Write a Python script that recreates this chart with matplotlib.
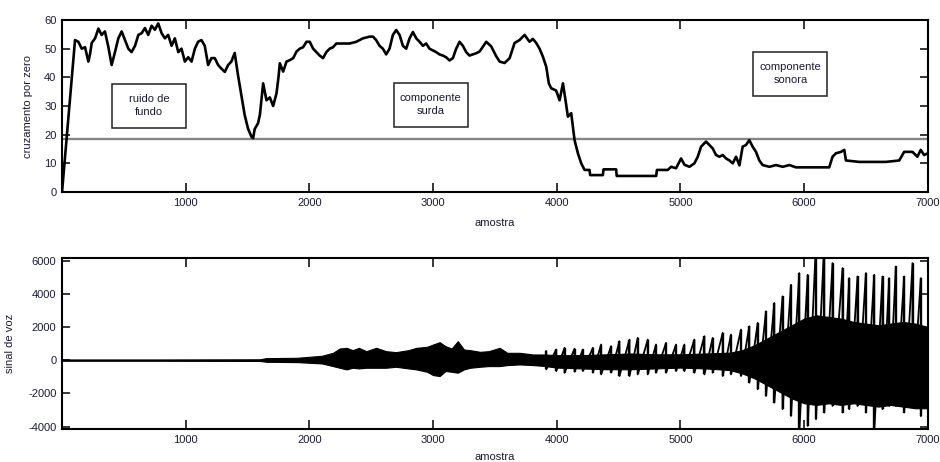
import numpy as np
from matplotlib import pyplot as plt
from matplotlib.patches import Rectangle

# taxa de cruzamento por zero
zc_x = [0, 105, 132, 159, 186, 213, 226, 240, 267, 294, 320, 347, 374, 401,
        428, 455, 482, 509, 536, 562, 590, 617, 644, 670, 697, 724, 751, 778,
        805, 832, 858, 886, 912, 940, 966, 993, 1020, 1047, 1074, 1100, 1127,
        1154, 1181, 1208, 1235, 1262, 1289, 1316, 1343, 1369, 1396, 1423,
        1450, 1477, 1504, 1531, 1545, 1558, 1585, 1600, 1626, 1653, 1680,
        1707, 1734, 1750, 1761, 1788, 1815, 1842, 1869, 1896, 1922, 1949,
        1976, 2003, 2030, 2057, 2083, 2110, 2137, 2164, 2191, 2218, 2271,
        2325, 2379, 2433, 2487, 2514, 2540, 2567, 2594, 2621, 2648, 2675,
        2702, 2729, 2756, 2783, 2810, 2837, 2864, 2891, 2918, 2944, 2971,
        2998, 3025, 3052, 3079, 3106, 3133, 3160, 3187, 3214, 3241, 3268,
        3294, 3321, 3348, 3376, 3430, 3470, 3510, 3538, 3578, 3619, 3659,
        3699, 3740, 3780, 3807, 3834, 3861, 3888, 3915, 3936, 3955, 3995,
        4023, 4050, 4071, 4090, 4117, 4144, 4171, 4198, 4225, 4265, 4270,
        4373, 4378, 4480, 4485, 4804, 4810, 4898, 4925, 4965, 5005, 5033,
        5073, 5113, 5140, 5167, 5207, 5234, 5261, 5288, 5315, 5342, 5369,
        5396, 5423, 5450, 5477, 5503, 5530, 5557, 5584, 5611, 5638, 5665,
        5719, 5773, 5827, 5881, 5934, 6203, 6230, 6257, 6298, 6325, 6338,
        6446, 6661, 6769, 6809, 6876, 6916, 6943, 6970, 7000]
zc_y = [0, 53, 52.4, 50, 50.5, 45.5, 48, 52, 53.6, 57, 54.8, 56, 50.7, 44.3,
        48.8, 53.6, 56, 53, 50, 48.8, 51, 54.8, 55.4, 57.2, 54.8, 58, 56.6,
        58.8, 55.4, 53.6, 54.8, 51, 53.6, 48.8, 50, 45.5, 47, 45.5, 50, 52.4,
        53, 51, 44.3, 46.7, 46.7, 44.3, 43, 41.9, 44.3, 45.5, 48.5, 40.7,
        33.8, 26.8, 22.1, 19.3, 18.8, 22, 24, 27, 37.9, 32, 33, 30, 34.4, 40,
        44.9, 42, 45.5, 46, 46.7, 49, 50, 50.5, 52.4, 52.4, 50, 48.8, 47.6,
        46.7, 48.8, 50, 50.5, 51.8, 51.8, 51.8, 52.4, 53.6, 54.2, 54.2, 53,
        51, 50, 48, 50, 54.8, 56.5, 54.8, 51, 50, 53.6, 55.8, 53.6, 52.4, 51,
        51.8, 50, 49.4, 48.8, 48, 47.6, 47, 45.9, 46.7, 50, 52.4, 51, 48.8,
        47.6, 48, 48.4, 49, 52.4, 50.8, 47.4, 45.5, 45, 46.7, 52, 53, 54.8,
        52.4, 53.4, 52, 50, 47.2, 43.7, 37.9, 36.2, 35.4, 32, 37.9, 32, 26.3,
        27.5, 18.1, 13.5, 10, 7.7, 7.7, 5.9, 5.9, 7.9, 7.9, 5.6, 5.6, 7.7,
        7.7, 8.8, 8.3, 11.7, 9.5, 8.8, 10, 12.3, 15.8, 17.6, 16.4, 15.2,
        12.9, 12.3, 12.9, 11.7, 11, 10, 12.3, 9.3, 15.8, 16.4, 18.1, 15.8,
        14, 11, 9.4, 8.8, 9.4, 8.8, 9.4, 8.6, 8.6, 12.3, 13.5, 14, 14.7, 11,
        10.5, 10.5, 11, 14, 14, 12.3, 14.7, 12.9, 13.5]
limiar = 18.5

# sinal de voz: envoltoria do trecho denso
sv_x = [0, 800, 1600, 1650, 1900, 2000, 2100, 2191, 2245, 2300, 2350, 2400,
        2460, 2540, 2620, 2700, 2800, 2865, 2950, 3000, 3053, 3100, 3150,
        3200, 3250, 3300, 3380, 3450, 3538, 3600, 3700, 3807, 3900, 4000,
        4200, 4400, 4600, 4800, 5000, 5200, 5400, 5500, 5600, 5700, 5800,
        5900, 6000, 6100, 6200, 6300, 6400, 6500, 6600, 6700, 6800, 6900, 7000]
sv_hi = [40, 40, 50, 120, 140, 200, 260, 440, 700, 740, 600, 740, 540, 740,
         540, 480, 600, 740, 800, 940, 1080, 840, 700, 1140, 640, 600, 500,
         540, 740, 440, 440, 340, 340, 300, 300, 350, 400, 350, 350, 400, 450,
         600, 900, 1300, 1700, 2100, 2500, 2700, 2600, 2500, 2300, 2200, 2100,
         2200, 2300, 2200, 2000]
sv_lo = [-40, -40, -50, -100, -120, -160, -200, -360, -460, -560, -460, -500,
         -460, -460, -460, -400, -500, -560, -700, -900, -960, -660, -700,
         -760, -560, -460, -400, -360, -360, -300, -260, -300, -350, -450,
         -500, -550, -550, -500, -450, -500, -600, -800, -1100, -1500, -1900,
         -2300, -2600, -2700, -2600, -2700, -2600, -2700, -2800, -2700, -2800,
         -2900, -2900]

# pulsos glotais (picos e vales) no trecho sonoro
pk_x = [3915, 3996, 4063, 4144, 4211, 4292, 4359, 4440, 4507, 4588,
        4655, 4736, 4803, 4884, 4965, 5032, 5113, 5194, 5261, 5342,
        5409, 5490, 5557, 5625, 5692, 5759, 5826, 5894, 5961, 6029,
        6096, 6163, 6230, 6311, 6365, 6432, 6500, 6567, 6634, 6688,
        6742, 6809, 6877, 6944]
pk_hi = [540, 640, 740, 690, 640, 740, 940, 840, 1140, 1240,
         1340, 1240, 940, 1040, 940, 940, 1240, 1440, 1340, 1640,
         1540, 1840, 2040, 2240, 2940, 3440, 3840, 4540, 5240, 5140,
         7000, 7000, 5840, 5540, 4940, 5040, 5240, 5140, 5040, 4940,
         5640, 5040, 5840, 4940]
pk_lo = [-560, -660, -760, -700, -660, -760, -860, -760, -960, -960,
         -860, -860, -760, -760, -660, -660, -760, -860, -760, -960,
         -860, -960, -1360, -1760, -2160, -2560, -2960, -3360, -4300, -3960,
         -3560, -3160, -2760, -3160, -2960, -2760, -3160, -4300, -2960, -2760,
         -2760, -3160, -2760, -3360]

# rotulos das regioes: (texto, x, y) do canto inferior esquerdo da caixa
regioes = [('ruido de\nfundo', 404, 22.3),
           ('componente\nsurda', 2682, 22.7),
           ('componente\nsonora', 5590, 33.5)]

txt_cor = '#1b1b33'
plt.rcParams['font.family'] = ['Liberation Sans', 'DejaVu Sans']
plt.rcParams['axes.unicode_minus'] = False


def estilo(ax, ylab_y):
    ax.tick_params(direction='in', top=True, right=True, labelsize=8,
                   labelcolor=txt_cor, width=1.1, pad=4)
    ax.tick_params(axis='x', length=6.5)
    ax.tick_params(axis='y', length=5.5)
    for s in ax.spines.values():
        s.set_linewidth(1.5)
    ax.set_xlim(0, 7000)
    ax.set_xticks([1000, 2000, 3000, 4000, 5000, 6000, 7000])
    ax.set_xlabel('amostra', fontsize=8, color=txt_cor)
    ax.xaxis.set_label_coords(0.5, ylab_y)


fig = plt.figure(figsize=(9.4, 4.62), dpi=100)

# grafico superior
ax1 = fig.add_axes([0.066, 0.5844, 0.921, 0.3723])
ax1.axhline(limiar, color='#858585', lw=1.7)
ax1.plot(zc_x, zc_y, color='black', lw=1.9)
ax1.set_ylim(0, 60)
ax1.set_yticks(np.arange(0, 61, 10))
ax1.set_ylabel('cruzamento por zero', fontsize=8, color=txt_cor)
ax1.yaxis.set_label_coords(-0.034, 0.5)
estilo(ax1, -0.15)
for txt, x0, y0 in regioes:
    ax1.add_patch(Rectangle((x0, y0), 598, 15.3, fill=False,
                            edgecolor='#222222', lw=1.1))
    ax1.text(x0 + 299, y0 + 7.9, txt, ha='center', va='center',
             fontsize=8, color=txt_cor, linespacing=1.35)

# grafico inferior
ax2 = fig.add_axes([0.066, 0.0714, 0.921, 0.3701])
ax2.fill_between(sv_x, sv_lo, sv_hi, color='black', lw=0.8)
# dente de serra: pico e vale de cada pulso, ligado ao pico seguinte
serra_x = np.repeat(pk_x, 2)
serra_y = np.column_stack([pk_hi, pk_lo]).ravel()
ax2.plot(serra_x, serra_y, color='black', lw=1.3)
ax2.vlines(pk_x, pk_lo, pk_hi, color='black', lw=1.7)
ax2.set_ylim(-4150, 6150)
ax2.set_yticks([-4000, -2000, 0, 2000, 4000, 6000])
ax2.set_ylabel('sinal de voz', fontsize=8, color=txt_cor)
ax2.yaxis.set_label_coords(-0.054, 0.5)
estilo(ax2, -0.135)

fig.savefig('out.png', dpi=100)
